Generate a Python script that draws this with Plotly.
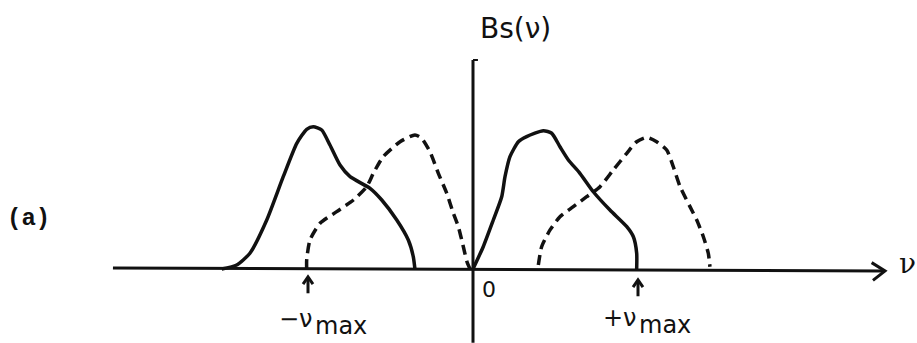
import plotly.graph_objects as go

# Sketch of the spectral density B_s(nu): two solid and two dashed humps,
# frequencies in units of nu_max, amplitude normalised to the tallest hump.

# left solid hump
left_solid_nu = [-1.523, -1.432, -1.352, -1.250, -1.150, -1.068, -1.008, -0.968, -0.917,
                 -0.867, -0.806, -0.745, -0.624, -0.553, -0.462, -0.392, -0.362, -0.352]
left_solid_b = [0.0, 0.028, 0.111, 0.345, 0.650, 0.885, 0.984, 1.002, 0.979,
                0.873, 0.732, 0.650, 0.568, 0.486, 0.345, 0.204, 0.087, 0.0]

# left dashed hump
left_dash_nu = [-1.008, -1.008, -0.988, -0.927, -0.826, -0.725, -0.644, -0.604, -0.544,
                -0.442, -0.352, -0.311, -0.261, -0.210, -0.159, -0.119, -0.089, -0.061,
                -0.036, -0.018]
left_dash_b = [0.0, 0.063, 0.204, 0.322, 0.404, 0.486, 0.580, 0.674, 0.791,
               0.896, 0.944, 0.920, 0.826, 0.674, 0.533, 0.392, 0.298, 0.169,
               0.049, 0.0]

# right solid hump
right_solid_nu = [0.0, 0.062, 0.123, 0.174, 0.194, 0.224, 0.275, 0.325, 0.426, 0.477,
                  0.527, 0.578, 0.648, 0.729, 0.830, 0.932, 0.972, 0.992, 0.992]
right_solid_b = [0.0, 0.157, 0.345, 0.509, 0.650, 0.791, 0.896, 0.932, 0.974, 0.956,
                 0.861, 0.768, 0.674, 0.544, 0.415, 0.298, 0.227, 0.111, 0.0]

# right dashed hump
right_dash_nu = [0.396, 0.416, 0.467, 0.527, 0.608, 0.689, 0.770, 0.850, 0.932, 0.992,
                 1.053, 1.113, 1.174, 1.214, 1.255, 1.315, 1.356, 1.396, 1.426, 1.436]
right_dash_b = [0.028, 0.157, 0.275, 0.368, 0.439, 0.509, 0.580, 0.697, 0.815, 0.896,
                0.927, 0.896, 0.838, 0.720, 0.580, 0.439, 0.345, 0.227, 0.111, 0.016]

nu_marks = [-1.0, 1.0]
nu_mark_signs = ["−ν", "+ν"]
nu_mark_sub = "max"

W, H = 917, 343
INK = "#111111"
LW = 3.5
DASH = "10px,6px"

fig = go.Figure()


def path(x, y, width=LW, dash="solid", shape="linear"):
    fig.add_trace(go.Scatter(
        x=x, y=y, mode="lines",
        line=dict(color=INK, width=width, dash=dash, shape=shape, smoothing=0.6),
        hoverinfo="skip", showlegend=False))


path(left_solid_nu, left_solid_b, shape="spline")
path(left_dash_nu, left_dash_b, dash=DASH, shape="spline")
path(right_solid_nu, right_solid_b, shape="spline")
path(right_dash_nu, right_dash_b, dash=DASH, shape="spline")

# horizontal nu axis with an open arrowhead
path([-2.182, 2.497], [0.007, -0.014], width=3)
path([2.416, 2.497, 2.424], [0.045, -0.014, -0.080], width=3)

# vertical B_s axis with a small bracket at the top
path([0.0, 0.0], [1.472, -0.52], width=3)
path([0.0, 0.03], [1.472, 1.472], width=2)

# up-arrows marking +/- nu_max (stem plus head)
arrow_tip = {-1.0: -0.056, 1.0: -0.077}
for nu in nu_marks:
    tip = arrow_tip[nu]
    path([nu, nu], [tip, tip - 0.115], width=3)
    path([nu - 0.03, nu, nu + 0.03], [tip - 0.05, tip, tip - 0.05], width=3)


def label(px, py, text, size, family="DejaVu Sans", anchor="center", color=INK):
    fig.add_annotation(x=px / W, y=1 - py / H, xref="paper", yref="paper",
                       text=text, showarrow=False, xanchor=anchor, yanchor="middle",
                       font=dict(size=size, family=family, color=color))


label(515, 29, "Bs(ν)", 28, "DejaVu Sans")
label(28, 218, "<b>(a)</b>", 24, "Liberation Mono")
label(489, 289, "0", 22, "DejaVu Sans")
label(907, 263, "ν", 28, "DejaVu Serif")

# -nu_max and +nu_max labels, "max" set slightly below the nu
label(315, 319, nu_mark_signs[0], 24, anchor="right")
label(313, 326, nu_mark_sub, 24, anchor="left")
label(639, 318, nu_mark_signs[1], 24, anchor="right")
label(637, 325, nu_mark_sub, 24, anchor="left")

fig.update_layout(
    width=W, height=H,
    margin=dict(l=0, r=0, t=0, b=0),
    paper_bgcolor="white", plot_bgcolor="white",
    xaxis=dict(range=[-473 / 165, 444 / 165], visible=False, fixedrange=True),
    yaxis=dict(range=[(269 - 343) / 142, 269 / 142], visible=False, fixedrange=True),
    showlegend=False,
)

fig.write_html("out.html")
